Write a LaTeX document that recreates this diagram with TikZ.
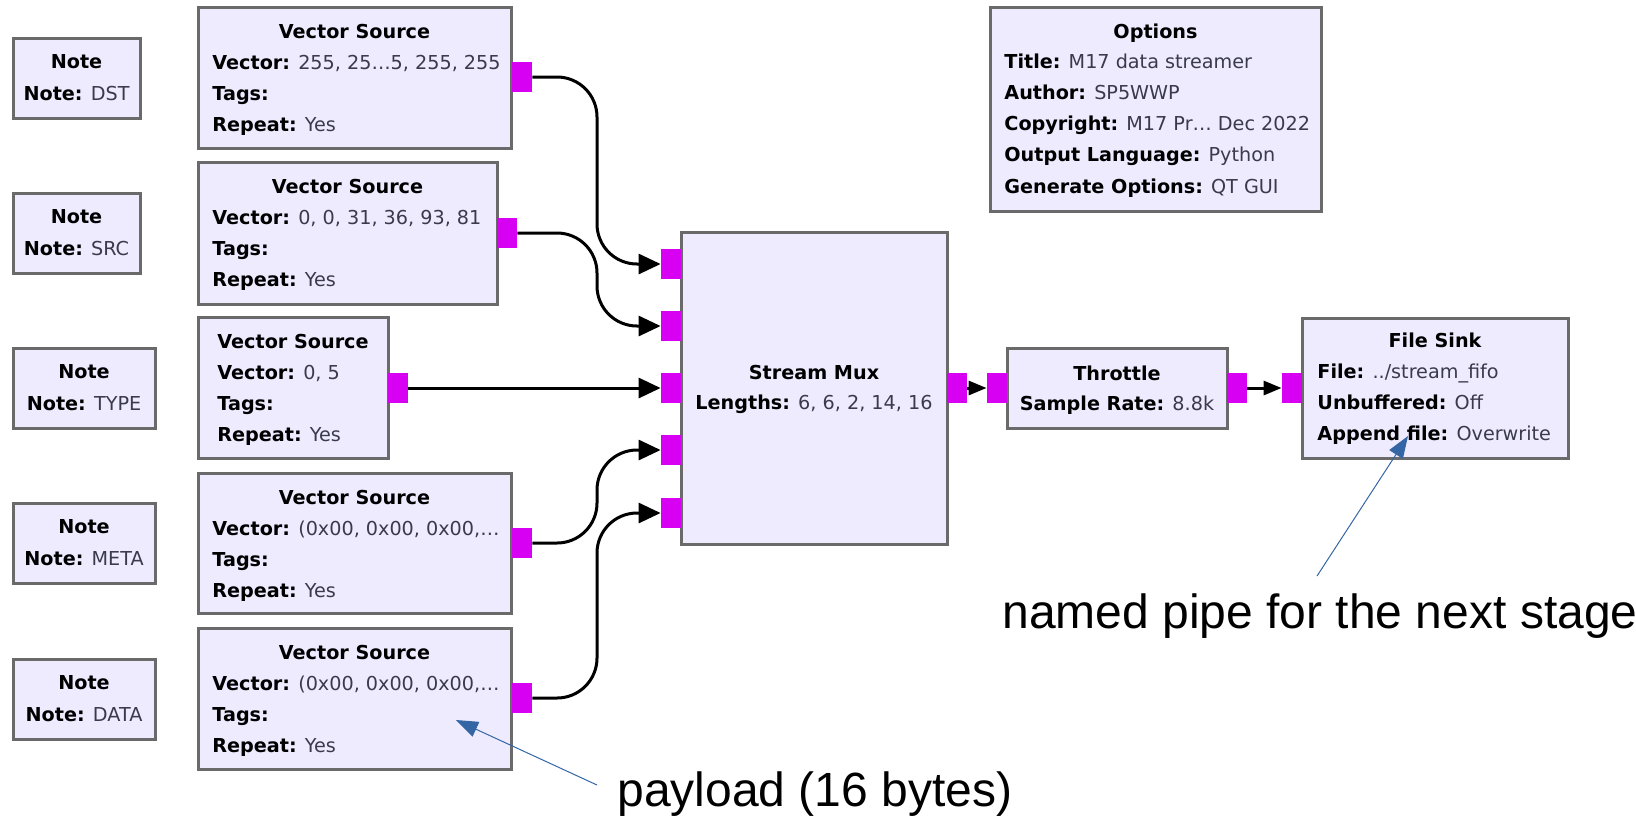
\documentclass[tikz,border=0pt]{standalone}
\usepackage{fontspec}
\setmainfont{DejaVu Sans}
\newfontfamily\annfont{Liberation Sans}
\usetikzlibrary{fit,arrows.meta}
\definecolor{blkfill}{HTML}{EFEBFF}
\definecolor{blkborder}{HTML}{6A6A6A}
\definecolor{portc}{HTML}{D800F2}
\definecolor{valc}{HTML}{3A3A4A}
\definecolor{annc}{HTML}{3465A4}
\newcommand\lb[1]{\textcolor{black}{\bfseries #1}}
\begin{document}
\begin{tikzpicture}[x=0.5pt,y=-0.5pt,
  font=\fontsize{9.6}{12}\selectfont,
  blk/.style={draw=blkborder, line width=1.5pt, fill=blkfill, inner sep=0pt},
  ttl/.style={anchor=base, font=\fontsize{9.6}{12}\selectfont\bfseries, text=black, inner sep=0pt},
  row/.style={anchor=base west, text=valc, inner sep=0pt},
  rowc/.style={anchor=base, text=valc, inner sep=0pt},
  port/.style={fill=portc, draw=none, minimum width=10pt, minimum height=15pt, inner sep=0pt},
  wire/.style={line width=1.5pt, black, rounded corners=20pt, -{Triangle[length=11pt,width=10pt]}},
  swire/.style={line width=1.5pt, black, -{Triangle[length=9pt,width=7pt]}},
  ann/.style={draw=annc, line width=0.5pt, -{Triangle[length=11pt,width=8pt]}},
  anntext/.style={font=\annfont\fontsize{24}{28}\selectfont, text=black, inner sep=0pt, anchor=base west}
]
\useasboundingbox (0,0) rectangle (1636,816);

% ---- Notes ----
\node[blk, fit={(13,38) (140,118)}] (ndst) {};
\node[ttl] (ndstt) at (76.5,68) {Note};
\node[rowc] (ndstr) at (76.5,100) {\lb{Note:} DST};

\node[blk, fit={(13,193) (140,273)}] (nsrc) {};
\node[ttl] (nsrct) at (76.5,223) {Note};
\node[rowc] (nsrcr) at (76.5,255) {\lb{Note:} SRC};

\node[blk, fit={(13,348) (155,428)}] (ntype) {};
\node[ttl] (ntypet) at (84,378) {Note};
\node[rowc] (ntyper) at (84,410) {\lb{Note:} TYPE};

\node[blk, fit={(13,503) (155,583)}] (nmeta) {};
\node[ttl] (nmetat) at (84,533) {Note};
\node[rowc] (nmetar) at (84,565) {\lb{Note:} META};

\node[blk, fit={(13,659) (155,739)}] (ndata) {};
\node[ttl] (ndatat) at (84,689) {Note};
\node[rowc] (ndatar) at (84,721) {\lb{Note:} DATA};

% ---- Vector sources ----
\node[blk, fit={(198,7) (511,148)}] (vs1) {};
\node[ttl] (vs1t) at (354.5,38) {Vector Source};
\node[row] (vs1a) at (212,69) {\lb{Vector:} 255, 25…5, 255, 255};
\node[row] (vs1b) at (212,100) {\lb{Tags:}};
\node[row] (vs1c) at (212,131) {\lb{Repeat:} Yes};

\node[blk, fit={(198,162) (497,304)}] (vs2) {};
\node[ttl] (vs2t) at (347.5,193) {Vector Source};
\node[row] (vs2a) at (212,224) {\lb{Vector:} 0, 0, 31, 36, 93, 81};
\node[row] (vs2b) at (212,255) {\lb{Tags:}};
\node[row] (vs2c) at (212,286) {\lb{Repeat:} Yes};

\node[blk, fit={(198,317) (388,458)}] (vs3) {};
\node[ttl] (vs3t) at (293,348) {Vector Source};
\node[row] (vs3a) at (217,379) {\lb{Vector:} 0, 5};
\node[row] (vs3b) at (217,410) {\lb{Tags:}};
\node[row] (vs3c) at (217,441) {\lb{Repeat:} Yes};

\node[blk, fit={(198,473) (511,613)}] (vs4) {};
\node[ttl] (vs4t) at (354.5,504) {Vector Source};
\node[row] (vs4a) at (212,535) {\lb{Vector:} (0x00, 0x00, 0x00,…};
\node[row] (vs4b) at (212,566) {\lb{Tags:}};
\node[row] (vs4c) at (212,597) {\lb{Repeat:} Yes};

\node[blk, fit={(198,628) (511,769)}] (vs5) {};
\node[ttl] (vs5t) at (354.5,659) {Vector Source};
\node[row] (vs5a) at (212,690) {\lb{Vector:} (0x00, 0x00, 0x00,…};
\node[row] (vs5b) at (212,721) {\lb{Tags:}};
\node[row] (vs5c) at (212,752) {\lb{Repeat:} Yes};

% ---- Options ----
\node[blk, fit={(990,7) (1321,211)}] (opt) {};
\node[ttl] (optt) at (1155.5,38) {Options};
\node[row] (opta) at (1004,68) {\lb{Title:} M17 data streamer};
\node[row] (optb) at (1004,99) {\lb{Author:} SP5WWP};
\node[row] (optc) at (1004,130) {\lb{Copyright:} M17 Pr… Dec 2022};
\node[row] (optd) at (1004,161) {\lb{Output Language:} Python};
\node[row] (opte) at (1004,193) {\lb{Generate Options:} QT GUI};

% ---- Stream Mux ----
\node[blk, fit={(681,232) (947,544)}] (mux) {};
\node[ttl] (muxt) at (814,379) {Stream Mux};
\node[rowc] (muxa) at (814,409) {\lb{Lengths:} 6, 6, 2, 14, 16};

% ---- Throttle ----
\node[blk, fit={(1007,348) (1227,428)}] (thr) {};
\node[ttl] (thrt) at (1117,380) {Throttle};
\node[rowc] (thra) at (1117,410) {\lb{Sample Rate:} 8.8k};

% ---- File Sink ----
\node[blk, fit={(1302,318) (1568,458)}] (fs) {};
\node[ttl] (fst) at (1435,347) {File Sink};
\node[row] (fsa) at (1317,378) {\lb{File:} ../stream\_fifo};
\node[row] (fsb) at (1317,409) {\lb{Unbuffered:} Off};
\node[row] (fsc) at (1317,440) {\lb{Append file:} Overwrite};

% ---- Ports ----
\node[port] (vs1p) at (522,77) {};
\node[port] (vs2p) at (507,233) {};
\node[port] (vs3p) at (398,388) {};
\node[port] (vs4p) at (522,543) {};
\node[port] (vs5p) at (522,698) {};
\node[port] (mi1) at (671,264) {};
\node[port] (mi2) at (671,326) {};
\node[port] (mi3) at (671,388) {};
\node[port] (mi4) at (671,450) {};
\node[port] (mi5) at (671,513) {};
\node[port] (muxo) at (957,388) {};
\node[port] (thri) at (997,388) {};
\node[port] (thro) at (1237,388) {};
\node[port] (fsi) at (1292,388) {};

% ---- Wires ----
\coordinate (xv) at (597,0);
\draw[wire] (vs1p.east) -| (xv |- mi1.west) -- (mi1.west);
\draw[wire] (vs2p.east) -| (xv |- mi2.west) -- (mi2.west);
\draw[wire] (vs3p.east) -- (mi3.west);
\draw[wire] (vs4p.east) -| (xv |- mi4.west) -- (mi4.west);
\draw[wire] (vs5p.east) -| (xv |- mi5.west) -- (mi5.west);
\draw[swire] (muxo.east) -- (thri.west);
\draw[swire] (thro.east) -- (fsi.west);

% ---- Annotations ----
\node[anntext] (paytxt) at (617,806) {payload (16 bytes)};
\node[anntext] (pipetxt) at (1002,628) {named pipe for the next stage};
\coordinate (paytail) at (597,785);
\coordinate (payhead) at (456,720);
\coordinate (pipetail) at (1317,576);
\coordinate (pipehead) at (1408,436);
\draw[ann] (paytail) -- (payhead);
\draw[ann] (pipetail) -- (pipehead);
\end{tikzpicture}
\end{document}
